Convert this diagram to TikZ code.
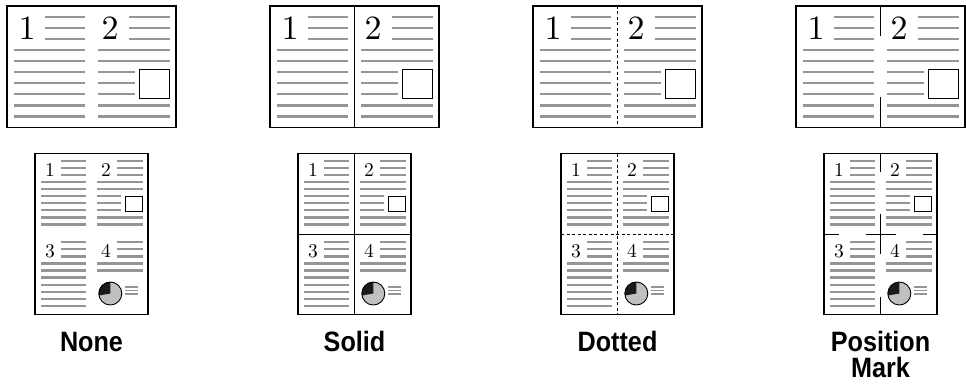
\documentclass[tikz,border=0pt]{standalone}
\usepackage{graphicx}
\usepackage{fontspec}
\newfontfamily\labfont{Liberation Sans}
\definecolor{txtgray}{HTML}{959595}
\definecolor{piegray}{HTML}{C0C0C0}
\definecolor{piedark}{HTML}{1A1A1A}
\newcommand\bigd[1]{\scalebox{3.4}{\fontsize{10}{12}\selectfont #1}}
\newcommand\smalld[1]{\scalebox{1.95}{\fontsize{10}{12}\selectfont #1}}
\newcommand\labtxt[1]{\scalebox{0.9}[1]{\labfont\bfseries\fontsize{28}{30}\selectfont #1}}
\tikzset{
 tl/.style={txtgray, line width=2.2pt},
 sl/.style={txtgray, line width=1.6pt},
 frame/.style={black, line width=1.2pt},
 divline/.style={black, line width=0.9pt},
 dotline/.style={black, line width=0.8pt, dash pattern=on 3pt off 2.5pt},
 dig/.style={anchor=base, inner sep=0pt},
 lab/.style={anchor=base, inner sep=0pt}
}
\newcommand\landpg[2]{%
 \begin{scope}[shift={(#1,0)}]
  \foreach \i in {0,1,2}{\pgfmathsetmacro\yy{16.7+11.1*\i}
    \draw[tl] (38,\yy) -- (78,\yy); \draw[tl] (122,\yy) -- (162.5,\yy);}
  \foreach \i in {3,...,9}{\pgfmathsetmacro\yy{16.7+11.1*\i}
    \draw[tl] (6.5,\yy) -- (78,\yy);}
  \foreach \i in {3,4,8,9}{\pgfmathsetmacro\yy{16.7+11.1*\i}
    \draw[tl] (91,\yy) -- (162.5,\yy);}
  \foreach \i in {5,6,7}{\pgfmathsetmacro\yy{16.7+11.1*\i}
    \draw[tl] (91,\yy) -- (128,\yy);}
  \draw[divline] (132,69) rectangle (162.5,98);
  \node[dig] (L#2a) at (20,40) {\bigd{1}};
  \node[dig] (L#2b) at (103,40) {\bigd{2}};
  \draw[frame] (0,6) rectangle (169,127.5);
 \end{scope}}
\newcommand\portpg[2]{%
 \begin{scope}[shift={(#1,0)}]
  \foreach \i in {0,1,2}{\pgfmathsetmacro\yy{161+7.05*\i}\pgfmathsetmacro\zz{242.3+7.05*\i}
    \draw[tl] (26,\yy) -- (51,\yy); \draw[tl] (81.7,\yy) -- (107.7,\yy);
    \draw[tl] (26,\zz) -- (51,\zz); \draw[tl] (81.7,\zz) -- (107.7,\zz);}
  \foreach \i in {3,...,9}{\pgfmathsetmacro\yy{161+7.05*\i}\pgfmathsetmacro\zz{242.3+7.05*\i}
    \draw[tl] (6,\yy) -- (51,\yy); \draw[tl] (6,\zz) -- (51,\zz);}
  \foreach \i in {3,4,8,9}{\pgfmathsetmacro\yy{161+7.05*\i}
    \draw[tl] (61.7,\yy) -- (107.7,\yy);}
  \foreach \i in {3,4}{\pgfmathsetmacro\zz{242.3+7.05*\i}
    \draw[tl] (61.7,\zz) -- (107.7,\zz);}
  \foreach \i in {5,6,7}{\pgfmathsetmacro\yy{161+7.05*\i}
    \draw[tl] (61.7,\yy) -- (86,\yy);}
  \draw[divline] (90,196) rectangle (107.7,211);
  \coordinate (pc#2) at (75.3,293.5);
  \fill[piegray] (pc#2) circle (11.5pt);
  \fill[piedark] (pc#2) -- ++(90:11.5pt) arc[start angle=90,end angle=190,radius=11.5pt] -- cycle;
  \draw[black, line width=0.9pt] (pc#2) circle (11.5pt);
  \foreach \yy in {287,290.5,294}{\draw[sl] (90,\yy) -- (103,\yy);}
  \node[dig] (P#2a) at (15,176) {\smalld{1}};
  \node[dig] (P#2b) at (71,176) {\smalld{2}};
  \node[dig] (P#2c) at (15,257) {\smalld{3}};
  \node[dig] (P#2d) at (71,257) {\smalld{4}};
  \draw[frame] (0,153.5) rectangle (113,314.5);
 \end{scope}}
\begin{document}
\begin{tikzpicture}[x=1pt,y=-1pt]
\useasboundingbox (0,0) rectangle (966,385);
% column 1: None
\landpg{7}{1}
\portpg{35}{1}
\node[lab] (n1) at (91.5,351) {\labtxt{None}};
% column 2: Solid
\landpg{270}{2}
\draw[divline] (354.5,6) -- (354.5,127.5);
\portpg{298}{2}
\draw[divline] (354.5,153.5) -- (354.5,314.5);
\draw[divline] (298,234) -- (411,234);
\node[lab] (n2) at (354.5,351) {\labtxt{Solid}};
% column 3: Dotted
\landpg{533}{3}
\draw[dotline] (617.5,6) -- (617.5,127.5);
\portpg{561}{3}
\draw[dotline] (617.5,153.5) -- (617.5,314.5);
\draw[dotline] (561,234) -- (674,234);
\node[lab] (n3) at (617.5,351) {\labtxt{Dotted}};
% column 4: Position Mark
\landpg{796}{4}
\draw[divline] (880.5,6) -- (880.5,36);
\draw[divline] (880.5,97) -- (880.5,127.5);
\portpg{824}{4}
\draw[divline] (880.5,153.5) -- (880.5,171.5);
\draw[divline] (880.5,214) -- (880.5,254);
\draw[divline] (880.5,296.5) -- (880.5,314.5);
\draw[divline] (824,234) -- (839,234);
\draw[divline] (865.5,234) -- (895.5,234);
\draw[divline] (923,234) -- (937,234);
\node[lab] (n4) at (880.5,351) {\labtxt{Position}};
\node[lab] (n4b) at (880.5,377) {\labtxt{Mark}};
\end{tikzpicture}
\end{document}
